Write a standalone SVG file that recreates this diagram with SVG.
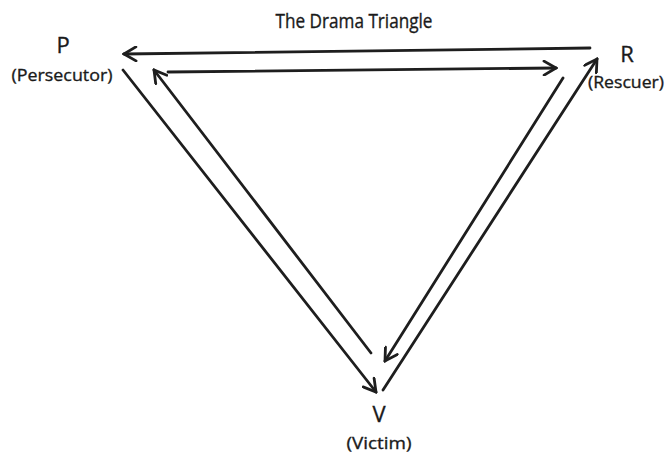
<svg xmlns="http://www.w3.org/2000/svg" width="665" height="454" viewBox="0 0 665 454">
<defs>
<style>
.lbl{font-family:"Open Sans","Liberation Sans",Arial,sans-serif;fill:#1a1a1a;text-anchor:middle;stroke:#1a1a1a;stroke-width:0.35}
.big{font-size:22px}
.sm{font-size:17px}
.ttl{font-size:20px}
.ln{stroke:#1e1e1e;stroke-width:2.8;fill:none;stroke-linecap:round;marker-end:url(#ah)}
</style>
<marker id="ah" viewBox="-14 -8 16 16" markerWidth="16" markerHeight="16" markerUnits="userSpaceOnUse" refX="0" refY="0" orient="auto">
<polyline points="-12,-7 0,0 -12,7" fill="none" stroke="#1e1e1e" stroke-width="2.8" stroke-linecap="round" stroke-linejoin="miter"/>
</marker>
</defs>
<rect width="665" height="454" fill="#ffffff"/>
<text class="lbl ttl" x="354" y="28" textLength="157" lengthAdjust="spacingAndGlyphs">The Drama Triangle</text>
<g id="nodeP">
<text class="lbl big" x="63" y="53">P</text>
<text class="lbl sm" x="62" y="81" textLength="101" lengthAdjust="spacingAndGlyphs">(Persecutor)</text>
</g>
<g id="nodeR">
<text class="lbl big" x="627" y="62">R</text>
<text class="lbl sm" x="626" y="88" textLength="76" lengthAdjust="spacingAndGlyphs">(Rescuer)</text>
</g>
<g id="nodeV">
<text class="lbl big" x="379" y="422">V</text>
<text class="lbl sm" x="379" y="449" textLength="65" lengthAdjust="spacingAndGlyphs">(Victim)</text>
</g>
<g id="connectors">
<line class="ln" x1="590" y1="48" x2="124" y2="54"/>
<line class="ln" x1="168" y1="72" x2="556" y2="68"/>
<line class="ln" x1="123" y1="70" x2="376" y2="392"/>
<line class="ln" x1="371" y1="353" x2="154" y2="70"/>
<line class="ln" x1="563" y1="78" x2="385" y2="361"/>
<line class="ln" x1="383" y1="390" x2="597" y2="59"/>
</g>
</svg>
